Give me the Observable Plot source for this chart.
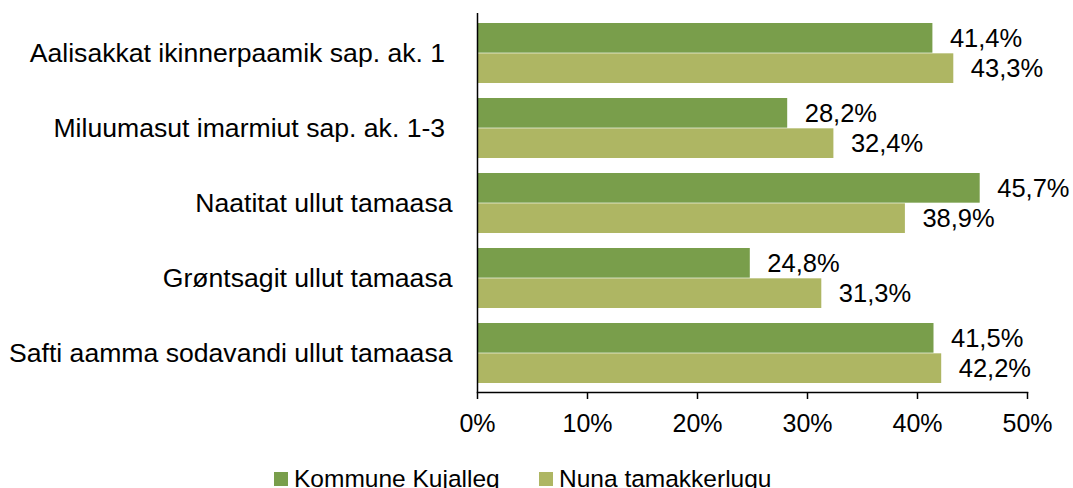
<!DOCTYPE html>
<html><head><meta charset="utf-8">
<script src="https://cdn.jsdelivr.net/npm/d3@7"></script>
<script src="https://cdn.jsdelivr.net/npm/@observablehq/plot@0.6"></script>
<style>
body{margin:0;background:#fff;font-family:"Liberation Sans",Arial,sans-serif;}
#wrap{position:relative;width:1073px;height:488px;overflow:hidden;background:#fff;}
#chart{position:absolute;left:0;top:0;}
.sw{position:absolute;width:14px;height:14px;}
.lt{position:absolute;font-size:24.5px;line-height:1;color:#000;white-space:nowrap;}
</style></head><body>
<div id="wrap"><div id="chart"></div></div>
<script>
const categories = [
  "Aalisakkat ikinnerpaamik sap. ak. 1\u00a0",
  "Miluumasut imarmiut sap. ak. 1-3\u00a0",
  "Naatitat ullut tamaasa",
  "Grøntsagit ullut tamaasa",
  "Safti aamma sodavandi ullut tamaasa"
];
const seriesNames = ["Kommune Kujalleq", "Nuna tamakkerlugu"];
const kujalleq = [41.4, 28.2, 45.7, 24.8, 41.5];
const nuna = [43.3, 32.4, 38.9, 31.3, 42.2];
const xTicks = [0, 10, 20, 30, 40, 50];
const colors = ["#799e4b", "#aeb663"];

const data1 = categories.map((c, i) => ({category: c, value: kujalleq[i], series: seriesNames[0]}));
const data2 = categories.map((c, i) => ({category: c, value: nuna[i], series: seriesNames[1]}));

const W = 1073, H = 450, mt = 13, mb = 58, ml = 477, mr = 46;
const yOpts = {type: "band", domain: categories, paddingInner: 0.2, paddingOuter: 0.1};
const bw = Plot.scale({y: {...yOpts, range: [mt, H - mb]}}).bandwidth;
const fmt = v => v.toFixed(1).replace(".", ",") + "%";
const font = '"Liberation Sans", Arial, sans-serif';

const chart = Plot.plot({
  width: W, height: H,
  marginTop: mt, marginBottom: mb, marginLeft: ml, marginRight: mr,
  style: {fontFamily: font, background: "#fff", color: "#000"},
  x: {domain: [0, 50]},
  y: {domain: categories, paddingInner: 0.2, paddingOuter: 0.1},
  marks: [
    Plot.barX(data1, {y: "category", x: "value", fill: colors[0], insetBottom: bw / 2}),
    Plot.barX(data2, {y: "category", x: "value", fill: colors[1], insetTop: bw / 2}),
    Plot.text(data1, {y: "category", x: "value", text: d => fmt(d.value), dy: -bw / 4, dx: 17, textAnchor: "start", fontSize: 25.5, fill: "#000"}),
    Plot.text(data2, {y: "category", x: "value", text: d => fmt(d.value), dy: bw / 4, dx: 17, textAnchor: "start", fontSize: 25.5, fill: "#000"}),
    Plot.ruleX([0], {stroke: "#000", strokeWidth: 1.5}),
    Plot.frame({anchor: "bottom", stroke: "#000", strokeWidth: 1.5}),
    Plot.axisX({ticks: xTicks, tickFormat: d => d + "%", tickSize: 7, tickPadding: 15, fontSize: 25, stroke: "#000", strokeWidth: 1.5, label: null}),
    Plot.axisY({tickSize: 0, tickPadding: 25, fontSize: 26.6, label: null})
  ]
});
document.getElementById("chart").appendChild(chart);

const wrap = document.getElementById("wrap");
const legendX = [[274, 294], [539, 559]];
seriesNames.forEach((name, i) => {
  const sw = document.createElement("div");
  sw.className = "sw";
  sw.style.left = legendX[i][0] + "px";
  sw.style.top = "472px";
  sw.style.background = colors[i];
  wrap.appendChild(sw);
  const t = document.createElement("div");
  t.className = "lt";
  t.style.left = legendX[i][1] + "px";
  t.style.top = "467px";
  t.textContent = name;
  wrap.appendChild(t);
});
</script>
</body></html>
